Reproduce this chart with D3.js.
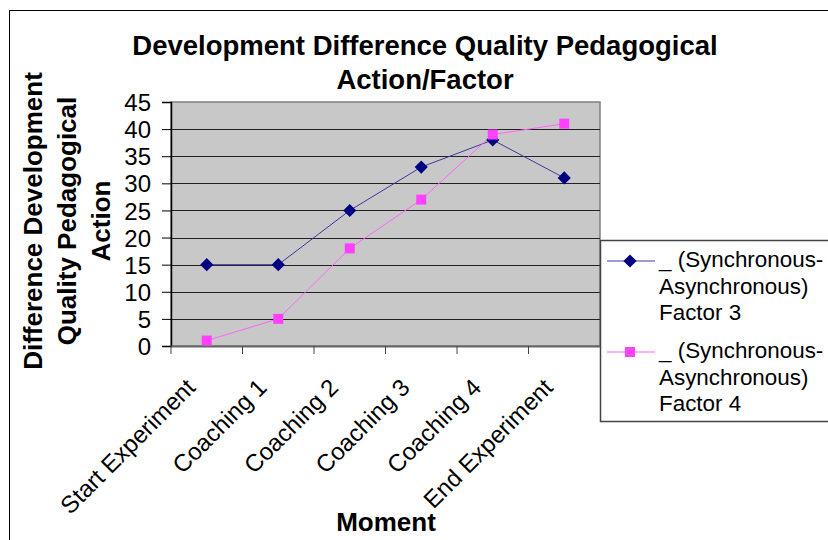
<!DOCTYPE html>
<html>
<head>
<meta charset="utf-8">
<script src="https://cdn.jsdelivr.net/npm/d3@7"></script>
<style>
	body { margin: 0; background: #fff; }
	text { font-family: "Liberation Sans", Arial, sans-serif; fill: #000; }
</style>
</head>
<body>
<div id="chart"></div>
<script>
	"use strict";

	var moments = ['Start Experiment', 'Coaching 1', 'Coaching 2', 'Coaching 3', 'Coaching 4', 'End Experiment'];
	var factor3 = [15, 15, 25, 33, 38, 31];
	var factor4 = [1, 5, 18, 27, 39, 41];
	var yTicks = [0, 5, 10, 15, 20, 25, 30, 35, 40, 45];
	var titleLines = ['Development Difference Quality Pedagogical', 'Action/Factor'];
	var yLabelLines = ['Difference Development', 'Quality Pedagogical', 'Action'];
	var legendLines = ['_ (Synchronous-', 'Asynchronous)'];

	var width = 828, height = 540;
	var plot = { left: 171, top: 102, right: 600, bottom: 346 };
	var fontFamily = '"Liberation Sans", Arial, sans-serif';

	var svg = d3.select('#chart')
		.append('svg')
		.attr('width', width)
		.attr('height', height);

	// outer frame
	svg.append('rect')
		.attr('x', 9.5).attr('y', 10.5)
		.attr('width', 840).attr('height', 560)
		.attr('fill', 'none')
		.attr('stroke', '#000')
		.attr('stroke-width', 1);

	var x = d3.scaleBand()
		.domain(moments)
		.range([plot.left, plot.right]);

	var y = d3.scaleLinear()
		.domain([0, 45])
		.range([plot.bottom, plot.top]);

	// plot background
	svg.append('rect')
		.attr('x', plot.left).attr('y', plot.top)
		.attr('width', plot.right - plot.left)
		.attr('height', plot.bottom - plot.top)
		.attr('fill', '#c8c8c8')
		.attr('stroke', '#808080')
		.attr('stroke-width', 1.5);

	// gridlines
	svg.append('g')
		.selectAll('line')
		.data(yTicks.filter(function (d) { return d > 0 && d < 45; }))
		.enter()
		.append('line')
		.attr('x1', plot.left).attr('x2', plot.right)
		.attr('y1', function (d) { return Math.round(y(d)) + 0.5; })
		.attr('y2', function (d) { return Math.round(y(d)) + 0.5; })
		.attr('stroke', '#222')
		.attr('stroke-width', 1);

	// y axis
	var yAxis = svg.append('g')
		.attr('transform', 'translate(' + plot.left + ',0)')
		.call(d3.axisLeft(y).tickValues(yTicks).tickSize(9).tickPadding(11));
	yAxis.select('.domain').attr('stroke', '#000').attr('stroke-width', 1.5);
	yAxis.selectAll('.tick line').attr('stroke', '#000');
	yAxis.selectAll('.tick text')
		.attr('font-size', 24)
		.attr('font-family', fontFamily)
		.attr('fill', '#000')
		.attr('dy', '0.36em');

	// x axis
	var xAxis = svg.append('g')
		.attr('transform', 'translate(0,' + plot.bottom + ')')
		.call(d3.axisBottom(x).tickSize(0).tickPadding(0));
	xAxis.select('.domain').attr('stroke', '#666').attr('stroke-width', 2);
	xAxis.selectAll('.tick text')
		.attr('font-size', 24)
		.attr('font-family', fontFamily)
		.attr('fill', '#000')
		.attr('text-anchor', 'end')
		.attr('y', 0)
		.attr('dy', 0)
		.attr('transform', 'translate(-10,43) rotate(-45)');

	svg.append('g')
		.selectAll('line')
		.data(moments)
		.enter()
		.append('line')
		.attr('x1', function (d) { return x(d); })
		.attr('x2', function (d) { return x(d); })
		.attr('y1', plot.bottom)
		.attr('y2', plot.bottom + 8)
		.attr('stroke', '#444');

	// series
	var line = d3.line()
		.x(function (d, i) { return x(moments[i]) + x.bandwidth() / 2; })
		.y(function (d) { return y(d); });

	svg.append('path')
		.datum(factor3)
		.attr('d', line)
		.attr('fill', 'none')
		.attr('stroke', '#3a3aa0')
		.attr('stroke-width', 1);

	svg.append('path')
		.datum(factor4)
		.attr('d', line)
		.attr('fill', 'none')
		.attr('stroke', '#ff66ff')
		.attr('stroke-width', 1);

	var diamond = d3.symbol().type(d3.symbolDiamond2).size(110);
	var square = d3.symbol().type(d3.symbolSquare).size(100);

	svg.append('g')
		.selectAll('path')
		.data(factor3)
		.enter()
		.append('path')
		.attr('d', diamond)
		.attr('transform', function (d, i) {
			return 'translate(' + (x(moments[i]) + x.bandwidth() / 2) + ',' + y(d) + ')';
		})
		.attr('fill', '#000080');

	svg.append('g')
		.selectAll('path')
		.data(factor4)
		.enter()
		.append('path')
		.attr('d', square)
		.attr('transform', function (d, i) {
			return 'translate(' + (x(moments[i]) + x.bandwidth() / 2) + ',' + y(d) + ')';
		})
		.attr('fill', '#ff40ff');

	// title
	svg.append('g')
		.selectAll('text')
		.data(titleLines)
		.enter()
		.append('text')
		.attr('x', 425)
		.attr('y', function (d, i) { return 55 + i * 34; })
		.attr('text-anchor', 'middle')
		.attr('font-size', 27.5)
		.attr('font-weight', 'bold')
		.text(function (d) { return d; });

	// y axis title
	svg.append('g')
		.selectAll('text')
		.data(yLabelLines)
		.enter()
		.append('text')
		.attr('transform', function (d, i) {
			return 'translate(' + (42 + i * 34) + ',221) rotate(-90)';
		})
		.attr('text-anchor', 'middle')
		.attr('font-size', 26)
		.attr('font-weight', 'bold')
		.text(function (d) { return d; });

	// x axis title
	svg.append('text')
		.attr('x', 386)
		.attr('y', 531)
		.attr('text-anchor', 'middle')
		.attr('font-size', 26)
		.attr('font-weight', 'bold')
		.text('Moment');

	// legend
	var legend = svg.append('g');
	legend.append('rect')
		.attr('x', 600.5).attr('y', 240.5)
		.attr('width', 240).attr('height', 181)
		.attr('fill', '#fff')
		.attr('stroke', '#444')
		.attr('stroke-width', 1.5);

	var entries = [
		{ name: 'Factor 3', color: '#000080', stroke: '#3a3aa0', symbol: diamond },
		{ name: 'Factor 4', color: '#ff40ff', stroke: '#ff66ff', symbol: square }
	];

	var entry = legend.selectAll('g.entry')
		.data(entries)
		.enter()
		.append('g')
		.attr('class', 'entry')
		.attr('transform', function (d, i) { return 'translate(0,' + (i * 91) + ')'; });

	entry.append('line')
		.attr('x1', 607).attr('x2', 655)
		.attr('y1', 261).attr('y2', 261)
		.attr('stroke', function (d) { return d.stroke; });

	entry.append('path')
		.attr('d', function (d) { return d.symbol(); })
		.attr('transform', 'translate(630,261)')
		.attr('fill', function (d) { return d.color; });

	entry.selectAll('text')
		.data(function (d) { return legendLines.concat([d.name]); })
		.enter()
		.append('text')
		.attr('x', 659)
		.attr('y', function (d, i) { return 267 + i * 26.5; })
		.attr('font-size', 22.4)
		.text(function (d) { return d; });
</script>
</body>
</html>
